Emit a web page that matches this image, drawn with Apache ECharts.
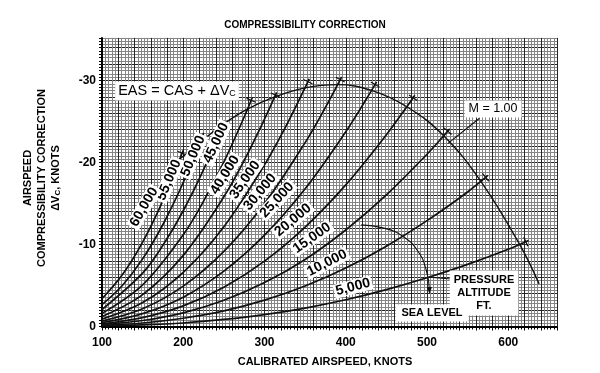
<!DOCTYPE html>
<html><head><meta charset="utf-8">
<script src="https://cdn.jsdelivr.net/npm/echarts@6/dist/echarts.min.js"></script>
<style>html,body{margin:0;padding:0;background:#fff}#c{width:600px;height:373px}</style>
</head><body><div id="c"></div>
<script>
// ---- tick labels ----
const xTickLabels = [100, 200, 300, 400, 500, 600];
const yTickLabels = [0, -10, -20, -30];

// ---- altitude curves: calibrated airspeed (knots) vs compressibility correction (knots) ----
const altitudeNames = ['5,000','10,000','15,000','20,000','25,000','30,000','35,000','40,000','45,000','50,000','55,000','60,000'];
const cas5000  = [100,150,200,250,300,350,400,450,500,550,600,625];
const dv5000   = [-0.06,-0.19,-0.43,-0.86,-1.45,-2.25,-3.26,-4.5,-5.94,-7.58,-9.42,-10.5];
const cas10000 = [100,150,200,250,300,350,400,450,500,550,575];
const dv10000  = [-0.13,-0.43,-1.01,-1.9,-3.21,-4.94,-7.13,-9.8,-12.91,-16.41,-18.42];
const cas15000 = [100,150,200,250,300,350,400,450,500,520,528];
const dv15000  = [-0.22,-0.73,-1.67,-3.2,-5.36,-8.18,-11.77,-16.05,-21.01,-23.19,-24.1];
const cas20000 = [100,150,200,250,300,350,400,450,475,485];
const dv20000  = [-0.33,-1.09,-2.52,-4.79,-7.97,-12.12,-17.27,-23.38,-26.77,-28.2];
const cas25000 = [100,150,200,250,300,350,400,425,438];
const dv25000  = [-0.47,-1.57,-3.58,-6.75,-11.14,-16.8,-23.75,-27.68,-29.83];
const cas30000 = [100,150,200,250,300,350,375,395];
const dv30000  = [-0.66,-2.16,-4.92,-9.16,-15.01,-22.43,-26.72,-30.44];
const cas35000 = [100,150,200,250,300,325,350,355];
const dv35000  = [-0.9,-2.92,-6.61,-12.17,-19.71,-24.17,-29.14,-30.2];
const cas40000 = [100,150,200,250,275,300,315];
const dv40000  = [-1.21,-3.89,-8.68,-15.82,-20.26,-25.29,-28.55];
const cas45000 = [100,150,200,225,250,275,285];
const dv45000  = [-1.6,-5.08,-11.19,-15.29,-20.08,-25.55,-27.93];
const cas50000 = [100,150,175,200,225,250];
const dv50000  = [-2.07,-6.51,-9.91,-14.12,-19.14,-24.96];
const cas55000 = [100,125,150,175,200,225];
const dv55000  = [-2.66,-5.0,-8.25,-12.44,-17.56,-23.6];
const cas60000 = [100,125,150,175,200];
const dv60000  = [-3.39,-6.3,-10.29,-15.36,-21.49];

// ---- M = 1.00 boundary ----
const casMach1 = [186,196.6,221,248.4,278.8,312.6,350,390,431.8,475.2,520.2,566.3,613.5,638];
const dvMach1  = [-19.9,-20.5,-22.5,-24.6,-26.5,-28,-29.1,-29.5,-28.8,-26.8,-23.3,-17.7,-10.1,-5.2];

// ---- annotation leaders (data coordinates) ----
const casArc = [419,447,470,488,499,503];
const dvArc  = [-12.4,-12.0,-11.0,-9.3,-6.9,-4.4];
const casMLeader = [525.5,564.6];
const dvMLeader  = [-22.3,-25.4];
const casPLeader = [503,530];
const dvPLeader  = [-6.0,-5.8];

const curveCas = [cas5000,cas10000,cas15000,cas20000,cas25000,cas30000,cas35000,cas40000,cas45000,cas50000,cas55000,cas60000];
const curveDv  = [dv5000,dv10000,dv15000,dv20000,dv25000,dv30000,dv35000,dv40000,dv45000,dv50000,dv55000,dv60000];

const pairs = (xs, ys) => xs.map((x, i) => [x, ys[i]]);
const FONT = '"Liberation Sans", Arial, sans-serif';
const INK = '#111';

const series = [];
altitudeNames.forEach((name, k) => {
  series.push({
    name: name, type: 'line', data: pairs(curveCas[k], curveDv[k]),
    smooth: 0.35, showSymbol: false, silent: true,
    lineStyle: {color: INK, width: 1.7}, z: 5
  });
});
series.push({
  name: 'M = 1.00', type: 'line', data: pairs(casMach1, dvMach1),
  smooth: 0.4, showSymbol: false, silent: true,
  lineStyle: {color: INK, width: 1.4}, z: 5
});
const arcData = pairs(casArc, dvArc).map((p, i, a) => i === a.length - 1 ?
  {value: p, symbol: 'triangle', symbolSize: [5, 7], symbolRotate: 180, itemStyle: {color: INK}} :
  {value: p, symbol: 'none'});
series.push({
  name: 'arc', type: 'line', data: arcData, smooth: 0.5, showSymbol: true, silent: true,
  lineStyle: {color: INK, width: 1.1}, z: 5
});
series.push({
  name: 'mleader', type: 'line', data: pairs(casMLeader, dvMLeader), showSymbol: false, silent: true,
  lineStyle: {color: INK, width: 1.1}, z: 5
});
series.push({
  name: 'pleader', type: 'line', data: pairs(casPLeader, dvPLeader), showSymbol: false, silent: true,
  lineStyle: {color: INK, width: 1.1}, z: 5
});

// label layout (pixel positions, rotation in degrees)
const curveLabelLayout = [
  [353,287,15],[327,263,27],[312,238,35],[293,220,40],[277,200,47],[260,192,50],
  [245,180,55],[225,175,58],[216,143,65],[193,156,67],[169,180,67],[144,207,60]
];

const graphic = [];
altitudeNames.forEach((name, k) => {
  const [x, y, a] = curveLabelLayout[k];
  graphic.push({
    type: 'text', x: x, y: y, rotation: a * Math.PI / 180, z: 100,
    style: {text: name, fill: '#000', font: 'bold 14px ' + FONT, align: 'center', verticalAlign: 'middle',
            backgroundColor: '#fff', padding: [0, 2]}
  });
});
graphic.push({
  type: 'text', x: 177, y: 91, z: 100,
  style: {text: '{a|EAS = CAS + ΔV}{s|C}', align: 'center', verticalAlign: 'middle',
          backgroundColor: '#fff', padding: [2, 3],
          rich: {a: {font: '14.5px ' + FONT, fill: '#000'}, s: {font: '9px ' + FONT, fill: '#000', verticalAlign: 'bottom', padding: [6, 0, 0, 0]}}}
});
graphic.push({
  type: 'text', x: 493, y: 109, z: 100,
  style: {text: 'M = 1.00', fill: '#000', font: '12.5px ' + FONT, align: 'center', verticalAlign: 'middle',
          backgroundColor: '#fff', padding: [2, 4]}
});
graphic.push({
  type: 'text', x: 484, y: 293, z: 100,
  style: {text: 'PRESSURE\nALTITUDE\nFT.', fill: '#000', font: 'bold 11px ' + FONT, align: 'center', verticalAlign: 'middle',
          lineHeight: 13, backgroundColor: '#fff', padding: [3, 4]}
});
graphic.push({
  type: 'text', x: 432, y: 313, z: 100,
  style: {text: 'SEA LEVEL', fill: '#000', font: 'bold 11px ' + FONT, align: 'center', verticalAlign: 'middle',
          backgroundColor: '#fff', padding: [3, 6]}
});
graphic.push({
  type: 'text', x: 305, y: 25, z: 100,
  style: {text: 'COMPRESSIBILITY CORRECTION', fill: '#000', font: 'bold 10px ' + FONT, align: 'center', verticalAlign: 'middle'}
});
graphic.push({
  type: 'text', x: 325, y: 362, z: 100,
  style: {text: 'CALIBRATED AIRSPEED, KNOTS', fill: '#000', font: 'bold 11px ' + FONT, align: 'center', verticalAlign: 'middle'}
});
const yNameLines = [
  {x: 28, t: 'AIRSPEED'},
  {x: 42, t: 'COMPRESSIBILITY CORRECTION'},
  {x: 56, t: '{a|ΔV}{s|C}{a|, KNOTS}'}
];
yNameLines.forEach(l => {
  graphic.push({
    type: 'text', x: l.x, y: 178, rotation: Math.PI / 2, z: 100,
    style: {text: l.t, fill: '#000', font: 'bold 11px ' + FONT, align: 'center', verticalAlign: 'middle',
            rich: {a: {font: 'bold 11px ' + FONT, fill: '#000'}, s: {font: 'bold 8px ' + FONT, fill: '#000', padding: [4, 0, 0, 0]}}}
  });
});

const MINOR = '#858585', MAJOR = '#262626';
const chart = echarts.init(document.getElementById('c'), null, {renderer: 'canvas'});
chart.setOption({
  animation: false,
  backgroundColor: '#fff',
  grid: {left: 102, right: 43, top: 37.9, bottom: 46.5},
  xAxis: {
    type: 'value', min: 100, max: 660, interval: 20,
    axisLine: {show: true, onZero: false, lineStyle: {color: '#000', width: 2}},
    axisTick: {show: true, length: 4, lineStyle: {color: '#000'}},
    minorTick: {show: true, splitNumber: 5, length: 3, lineStyle: {color: '#000'}},
    axisLabel: {margin: 10, color: '#000', fontFamily: FONT, fontSize: 12, fontWeight: 'bold',
      formatter: v => (xTickLabels.indexOf(Math.round(v)) >= 0 && Math.abs(v - Math.round(v)) < 1e-6 ? String(Math.round(v)) : '')},
    splitLine: {show: true, lineStyle: {color: MAJOR, width: 1}},
    minorSplitLine: {show: true, lineStyle: {color: MINOR, width: 1}}
  },
  yAxis: {
    type: 'value', min: -35.2, max: 0, interval: 0.4, inverse: true,
    axisLine: {show: true, onZero: false, lineStyle: {color: '#000', width: 2}},
    axisTick: {show: true, length: 3, lineStyle: {color: '#000'}},
    axisLabel: {margin: 6, color: '#000', fontFamily: FONT, fontSize: 12, fontWeight: 'bold',
      formatter: v => {
        const r = Math.round(v);
        return (Math.abs(v - r) < 1e-6 && yTickLabels.indexOf(r) >= 0) ? String(r) : '';
      }},
    splitLine: {show: true, lineStyle: {color: [MINOR, MINOR, MINOR, MAJOR, MINOR], width: 1}}
  },
  series: series,
  graphic: graphic
});

// small cross ticks at each curve end, oriented from the curve's own last segment
const endTicks = [];
curveCas.forEach((xs, k) => {
  const n = xs.length;
  const p1 = chart.convertToPixel({gridIndex: 0}, [xs[n - 1], curveDv[k][n - 1]]);
  const p0 = chart.convertToPixel({gridIndex: 0}, [xs[n - 2], curveDv[k][n - 2]]);
  const dx = p1[0] - p0[0], dy = p1[1] - p0[1];
  const L = Math.hypot(dx, dy) || 1;
  const ux = dx / L, uy = dy / L;
  const cx = p1[0] - ux * 3, cy = p1[1] - uy * 3;
  endTicks.push({
    type: 'line', z: 50, silent: true,
    shape: {x1: cx - uy * 5, y1: cy + ux * 5, x2: cx + uy * 5, y2: cy - ux * 5},
    style: {stroke: INK, lineWidth: 1.2}
  });
});
chart.setOption({graphic: graphic.concat(endTicks)});
</script>
</body></html>
